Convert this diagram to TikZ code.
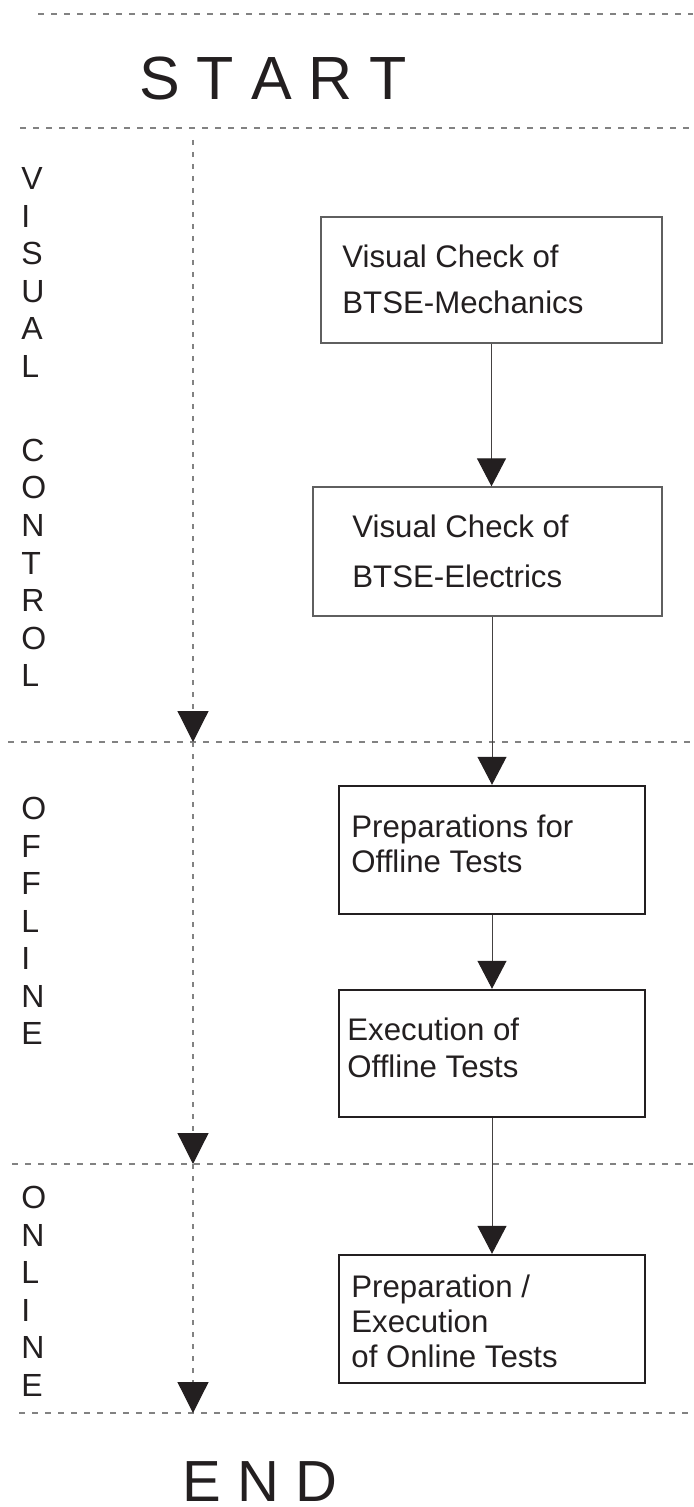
\documentclass[tikz,border=0pt]{standalone}
\usepackage{fontspec}
\setmainfont{Liberation Sans}
\usetikzlibrary{arrows.meta}
\definecolor{ink}{RGB}{35,31,32}
\definecolor{sepgray}{RGB}{130,130,130}
\definecolor{thinbox}{RGB}{95,95,95}
\tikzset{
  sepline/.style={draw=sepgray, line width=0.6pt, dash pattern=on 3pt off 3.5pt},
  phase/.style={draw=sepgray, line width=0.6pt, dash pattern=on 2.5pt off 3.5pt,
    -{Triangle[width=15.5pt,length=15.5pt,color=ink,fill=ink]}},
  conn/.style={draw=ink!85, line width=0.5pt,
    -{Triangle[width=14.5pt,length=14pt,color=ink,fill=ink]}},
  boxthin/.style={draw=thinbox, line width=0.65pt, rectangle, inner sep=0pt},
  boxthick/.style={draw=ink, line width=1.2pt, rectangle, inner sep=0pt},
  btxt/.style={anchor=base west, inner sep=0pt, text=ink, font=\fontsize{15.6pt}{18pt}\selectfont},
  lbl/.style={anchor=base west, inner sep=0pt, text=ink, font=\fontsize{16pt}{18pt}\selectfont},
  big/.style={anchor=base west, inner sep=0pt, text=ink},
}
\begin{document}
\begin{tikzpicture}[x=0.5pt, y=-0.5pt]
\useasboundingbox (0,0) rectangle (693,1507);

% horizontal separators
\coordinate (h0l) at (38,14);   \coordinate (h0r) at (693,14);
\coordinate (h1l) at (20,128);  \coordinate (h1r) at (693,128);
\coordinate (h2l) at (8,742);   \coordinate (h2r) at (693,742);
\coordinate (h3l) at (12,1164); \coordinate (h3r) at (693,1164);
\coordinate (h4l) at (19,1413); \coordinate (h4r) at (693,1413);
\draw[sepline] (h0l) -- (h0r);
\draw[sepline] (h1l) -- (h1r);
\draw[sepline] (h2l) -- (h2r);
\draw[sepline] (h3l) -- (h3r);
\draw[sepline] (h4l) -- (h4r);

% START / END
\node[big, font=\fontsize{30.5pt}{34pt}\selectfont] (start) at (139,100) {S T A R T};
\node[big, font=\fontsize{29pt}{32pt}\selectfont] (end) at (182,1501) {E N D};

% phase flow
\coordinate (p0) at (193,140);
\coordinate (p1) at (193,742);
\coordinate (p2) at (193,1164);
\coordinate (p3) at (193,1413);
\draw[phase] (p0) -- (p1);
\draw[phase] (p1) -- (p2);
\draw[phase] (p2) -- (p3);

% phase labels
\foreach \ch [count=\k] in {V,I,S,U,A,L}
  \node[lbl] (vis\k) at (21,{190+37.5*(\k-1)}) {\ch};
\foreach \ch [count=\k] in {C,O,N,T,R,O,L}
  \node[lbl] (con\k) at (21,{461.5+37.5*(\k-1)}) {\ch};
\foreach \ch [count=\k] in {O,F,F,L,I,N,E}
  \node[lbl] (off\k) at (21,{819.5+37.5*(\k-1)}) {\ch};
\foreach \ch [count=\k] in {O,N,L,I,N,E}
  \node[lbl] (onl\k) at (21,{1208.5+37.5*(\k-1)}) {\ch};

% boxes
\node[boxthin, minimum width=170.5pt, minimum height=63pt] (b1) at (491.5,280) {};
\node[boxthin, minimum width=174.5pt, minimum height=64.5pt] (b2) at (487.5,551.5) {};
\node[boxthick, minimum width=153pt, minimum height=64pt] (b3) at (492,850) {};
\node[boxthick, minimum width=153pt, minimum height=63.5pt] (b4) at (492,1053.5) {};
\node[boxthick, minimum width=153pt, minimum height=64pt] (b5) at (492,1319) {};

% box texts
\node[btxt] (t1a) at (342,268) {Visual Check of};
\node[btxt] (t1b) at (342,314) {BTSE-Mechanics};
\node[btxt] (t2a) at (352,538) {Visual Check of};
\node[btxt] (t2b) at (352,587) {BTSE-Electrics};
\node[btxt] (t3a) at (351,837) {Preparations for};
\node[btxt] (t3b) at (351,872) {Offline Tests};
\node[btxt] (t4a) at (347,1040) {Execution of};
\node[btxt] (t4b) at (347,1077) {Offline Tests};
\node[btxt] (t5a) at (351,1297) {Preparation /};
\node[btxt] (t5b) at (351,1332) {Execution};
\node[btxt] (t5c) at (351,1367) {of Online Tests};

% connectors
\draw[conn] (b1.south) -- (b1.south |- b2.north);
\draw[conn] (b2.south -| b3.north) -- (b3.north);
\draw[conn] (b3.south) -- (b4.north);
\draw[conn] (b4.south) -- (b5.north);
\end{tikzpicture}
\end{document}
